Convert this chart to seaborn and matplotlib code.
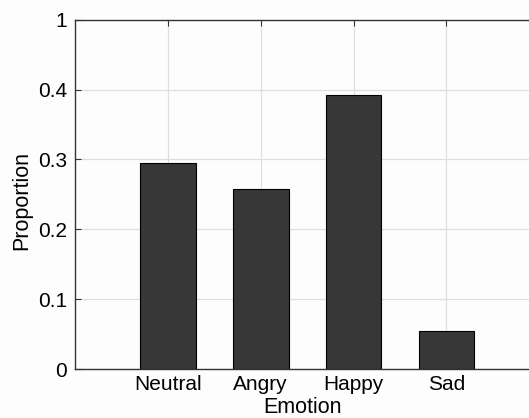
import seaborn as sns
import pandas as pd
import numpy as np
import matplotlib.pyplot as plt

# Data
emotions = ['Neutral', 'Angry', 'Happy', 'Sad']
proportions = [0.295, 0.258, 0.392, 0.054]
ytick_values = [0, 0.1, 0.2, 0.3, 0.4, 0.5]
ytick_labels = ['0', '0.1', '0.2', '0.3', '0.4', '1']

sns.set_style('whitegrid')
plt.rcParams['font.family'] = ['Liberation Sans', 'DejaVu Sans']

df = pd.DataFrame({'Emotion': emotions, 'Proportion': proportions})

fig = plt.figure(figsize=(5.29, 4.18), dpi=100)
fig.patch.set_facecolor('#fdfdfd')
ax = fig.add_axes([0.142, 0.117, 0.858, 0.836])
ax.set_facecolor('#fdfdfd')

sns.barplot(data=df, x='Emotion', y='Proportion', color='#373737',
            width=0.6, edgecolor='black', linewidth=0.8, saturation=1, ax=ax)

ax.set_xlim(-1, 3.89)
ax.set_ylim(0, 0.5)
ax.set_yticks(ytick_values)
ax.set_yticklabels(ytick_labels)

# grid and frame like the original
ax.grid(True, color='#dedede', linewidth=0.9)
ax.set_axisbelow(True)
for side in ['left', 'bottom', 'top']:
    ax.spines[side].set_visible(True)
    ax.spines[side].set_color('#333333')
    ax.spines[side].set_linewidth(1.0)
ax.spines['right'].set_visible(False)
ax.tick_params(axis='both', direction='in', length=4, labelsize=15,
               colors='#333333', labelcolor='black', top=True, left=True, bottom=True)
ax.tick_params(axis='y', pad=6)
ax.tick_params(axis='x', pad=4)

ax.set_xlabel('Emotion', fontsize=15.5, color='black', labelpad=2.5)
ax.set_ylabel('Proportion', fontsize=15.5, color='black')
ax.yaxis.set_label_coords(-0.095, 0.483)

plt.savefig('out.png', dpi=100, facecolor=fig.get_facecolor())
